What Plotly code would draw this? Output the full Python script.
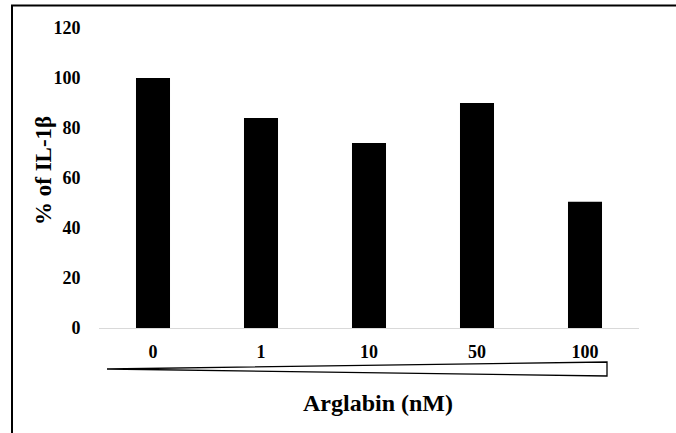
import plotly.graph_objects as go

categories = ["0", "1", "10", "50", "100"]
il1b_percent = [100, 84, 74, 90, 50.5]
y_ticks = [0, 20, 40, 60, 80, 100, 120]

FONT = "Liberation Serif"

fig = go.Figure()
fig.add_trace(go.Bar(
    x=categories,
    y=il1b_percent,
    marker=dict(color="black", line=dict(width=0)),
    width=0.315,
    hoverinfo="skip",
))

# page px -> paper helpers (plot area 99..639 x, 28..328 y)
def px_x(p):
    return (p - 99) / 540.0

def px_y(p):
    return (328 - p) / 300.0

shapes = [
    # outer frame (left and top edges)
    dict(type="path", xref="paper", yref="paper",
         path=f"M {px_x(12)},{px_y(470)} L {px_x(12)},{px_y(5.5)} L {px_x(720)},{px_y(5.5)}",
         line=dict(color="black", width=2)),
    # concentration wedge
    dict(type="path", xref="paper", yref="paper",
         path=f"M {px_x(107)},{px_y(369)} L {px_x(607)},{px_y(362)} L {px_x(607)},{px_y(376)} Z",
         line=dict(color="black", width=1.3), fillcolor="white"),
]

annotations = [
    dict(text="<b>Arglabin (nM)</b>", xref="paper", yref="paper",
         x=px_x(378), y=px_y(403), showarrow=False,
         font=dict(family=FONT, size=24, color="black"),
         xanchor="center", yanchor="middle"),
    dict(text="<b>% of IL-1β</b>", xref="paper", yref="paper",
         x=px_x(43), y=px_y(171), showarrow=False, textangle=-90,
         font=dict(family=FONT, size=23, color="black"),
         xanchor="center", yanchor="middle"),
]

fig.update_layout(
    width=676, height=433,
    margin=dict(l=99, r=37, t=28, b=105),
    paper_bgcolor="white", plot_bgcolor="white",
    showlegend=False,
    font=dict(family=FONT, color="black"),
    shapes=shapes,
    annotations=annotations,
    bargap=0.685,
)
fig.update_xaxes(
    type="category",
    showline=True, linecolor="#d9d9d9", linewidth=1,
    showgrid=False, zeroline=False,
    ticks="outside", ticklen=7, tickcolor="rgba(0,0,0,0)",
    tickfont=dict(family=FONT, size=18, color="black", weight="bold"),
)
fig.update_yaxes(
    range=[0, 120], tickvals=y_ticks, ticktext=[str(v) for v in y_ticks],
    showline=False, showgrid=False, zeroline=False,
    ticks="outside", ticklen=14, tickcolor="rgba(0,0,0,0)",
    tickfont=dict(family=FONT, size=18, color="black", weight="bold"),
)

fig.write_html("out.html", config={"displayModeBar": False},
               post_script="document.body.style.margin='0';")
